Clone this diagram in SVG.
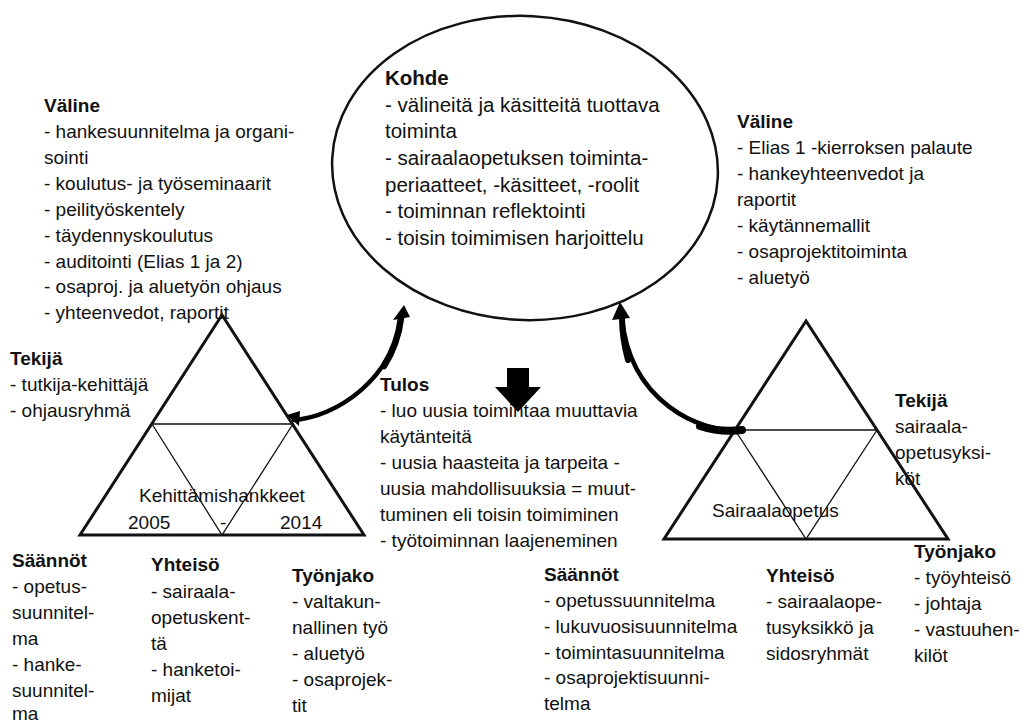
<svg xmlns="http://www.w3.org/2000/svg" width="1022" height="722" viewBox="0 0 1022 722">
  <style>
    text { font-family: "Liberation Sans", Arial, sans-serif; font-size: 19px; fill: #111; }
    .b { font-weight: bold; }
    .e { font-size: 20.5px; }
    .outer { fill: none; stroke: #111; stroke-width: 3; stroke-linejoin: miter; }
    .inner { fill: none; stroke: #111; stroke-width: 1.3; }
    .arc { fill: none; stroke: #000; stroke-width: 4.5; stroke-linecap: round; }
    .head { fill: #000; }
  </style>
  <rect width="1022" height="722" fill="#fff"/>

  <!-- object: ellipse with its text -->
  <g id="kohde">
    <ellipse cx="525" cy="168" rx="193" ry="152" transform="rotate(3 525 168)" fill="none" stroke="#111" stroke-width="2.5"/>
    <text x="385" y="85" class="b e">Kohde</text>
    <text x="385" y="112" class="e">- välineitä ja käsitteitä tuottava</text>
    <text x="385" y="138" class="e">toiminta</text>
    <text x="385" y="165" class="e">- sairaalaopetuksen toiminta-</text>
    <text x="385" y="192" class="e">periaatteet, -käsitteet, -roolit</text>
    <text x="385" y="218" class="e">- toiminnan reflektointi</text>
    <text x="385" y="245" class="e">- toisin toimimisen harjoittelu</text>
  </g>

  <!-- left activity system -->
  <g id="valine-left">
    <text x="44" y="112" class="b">Väline</text>
    <text x="44" y="138">- hankesuunnitelma ja organi-</text>
    <text x="44" y="164">sointi</text>
    <text x="44" y="190">- koulutus- ja työseminaarit</text>
    <text x="44" y="216">- peilityöskentely</text>
    <text x="44" y="242">- täydennyskoulutus</text>
    <text x="44" y="268">- auditointi (Elias 1 ja 2)</text>
    <text x="44" y="293">- osaproj. ja aluetyön ohjaus</text>
    <text x="44" y="319">- yhteenvedot, raportit</text>
  </g>

  <g id="tekija-left">
    <text x="10" y="365" class="b">Tekijä</text>
    <text x="10" y="391">- tutkija-kehittäjä</text>
    <text x="10" y="417">- ohjausryhmä</text>
  </g>

  <g id="triangle-left">
    <polygon class="outer" points="222,315 80,535 364,535"/>
    <polygon class="inner" points="152,424 293,424 222,535"/>
    <text x="139" y="502">Kehittämishankkeet</text>
    <text x="128" y="529">2005</text>
    <text x="220" y="529">-</text>
    <text x="280" y="529">2014</text>
  </g>

  <g id="saannot-left">
    <text x="12" y="567" class="b">Säännöt</text>
    <text x="12" y="593">- opetus-</text>
    <text x="12" y="619">suunnitel-</text>
    <text x="12" y="645">ma</text>
    <text x="12" y="671">- hanke-</text>
    <text x="12" y="697">suunnitel-</text>
    <text x="12" y="720">ma</text>
  </g>

  <g id="yhteiso-left">
    <text x="151" y="571" class="b">Yhteisö</text>
    <text x="151" y="598">- sairaala-</text>
    <text x="151" y="624">opetuskent-</text>
    <text x="151" y="650">tä</text>
    <text x="151" y="676">- hanketoi-</text>
    <text x="151" y="702">mijat</text>
  </g>

  <g id="tyonjako-left">
    <text x="292" y="582" class="b">Työnjako</text>
    <text x="292" y="608">- valtakun-</text>
    <text x="292" y="634">nallinen työ</text>
    <text x="292" y="660">- aluetyö</text>
    <text x="292" y="686">- osaprojek-</text>
    <text x="292" y="712">tit</text>
  </g>

  <!-- outcome -->
  <g id="tulos">
    <polygon class="head" points="507,368 529,368 529,387 541,387 518,412 495,387 507,387"/>
    <text x="380" y="391" class="b">Tulos</text>
    <text x="380" y="417">- luo uusia toimintaa muuttavia</text>
    <text x="380" y="443">käytänteitä</text>
    <text x="380" y="469">- uusia haasteita ja tarpeita -</text>
    <text x="380" y="495">uusia mahdollisuuksia = muut-</text>
    <text x="380" y="521">tuminen eli toisin toimiminen</text>
    <text x="380" y="547">- työtoiminnan laajeneminen</text>
  </g>

  <!-- right activity system -->
  <g id="valine-right">
    <text x="737" y="128" class="b">Väline</text>
    <text x="737" y="154">- Elias 1 -kierroksen palaute</text>
    <text x="737" y="180">- hankeyhteenvedot ja</text>
    <text x="737" y="206">raportit</text>
    <text x="737" y="232">- käytännemallit</text>
    <text x="737" y="258">- osaprojektitoiminta</text>
    <text x="737" y="284">- aluetyö</text>
  </g>

  <g id="tekija-right">
    <text x="895" y="407" class="b">Tekijä</text>
    <text x="895" y="433">sairaala-</text>
    <text x="895" y="459">opetusyksi-</text>
    <text x="895" y="485">köt</text>
  </g>

  <g id="triangle-right">
    <polygon class="outer" points="806,321 664,539 948,539"/>
    <polygon class="inner" points="735,430 877,430 806,539"/>
    <text x="712" y="517">Sairaalaopetus</text>
  </g>

  <g id="saannot-right">
    <text x="544" y="581" class="b">Säännöt</text>
    <text x="544" y="607">- opetussuunnitelma</text>
    <text x="544" y="633">- lukuvuosisuunnitelma</text>
    <text x="544" y="659">- toimintasuunnitelma</text>
    <text x="544" y="684">- osaprojektisuunni-</text>
    <text x="544" y="710">telma</text>
  </g>

  <g id="yhteiso-right">
    <text x="766" y="582" class="b">Yhteisö</text>
    <text x="766" y="608">- sairaalaope-</text>
    <text x="766" y="634">tusyksikkö ja</text>
    <text x="766" y="660">sidosryhmät</text>
  </g>

  <g id="tyonjako-right">
    <text x="914" y="558" class="b">Työnjako</text>
    <text x="914" y="584">- työyhteisö</text>
    <text x="914" y="610">- johtaja</text>
    <text x="914" y="636">- vastuuhen-</text>
    <text x="914" y="662">kilöt</text>
  </g>

  <!-- curved arrows from the triangles up to the object -->
  <g id="connectors">
    <path class="arc" d="M 294 420 C 336 417, 392 380, 401 318"/>
    <path class="arc" style="stroke-width:6.5" d="M 384 366 C 394 350, 399 335, 401 318"/>
    <polygon class="head" points="287,415 300,411 299,426"/>
    <polygon class="head" points="393,320 410,317 404,305"/>

    <path class="arc" d="M 740 430 C 700 433, 630 402, 622 318"/>
    <path class="arc" style="stroke-width:8" d="M 742 430 C 725 432, 712 430, 700 426"/>
    <path class="arc" style="stroke-width:6" d="M 628 360 C 624 345, 622 332, 622 318"/>
    <polygon class="head" points="612,320 630,318 620,302"/>
  </g>
</svg>
